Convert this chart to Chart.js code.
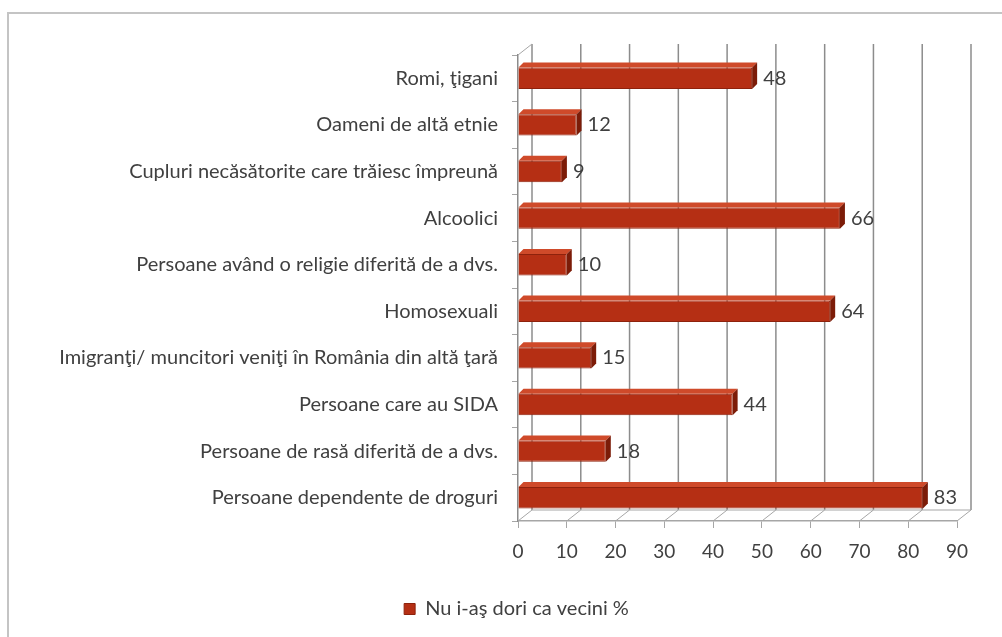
<!DOCTYPE html>
<html>
<head>
<meta charset="utf-8">
<script src="https://cdn.jsdelivr.net/npm/chart.js@4/dist/chart.umd.min.js"></script>
<style>
  html, body { margin: 0; padding: 0; background: #fff; }
  #wrap { position: relative; width: 1002px; height: 637px; overflow: hidden; }
  #frame { position: absolute; left: 7px; top: 12px; width: 1100px; height: 700px;
           border-top: 2px solid #c4c4c4; border-left: 2px solid #c4c4c4; }
  #box { position: absolute; left: 0; top: 0; width: 1002px; height: 637px; }
</style>
</head>
<body>
<div id="wrap">
  <div id="frame"></div>
  <div id="box"><canvas id="myChart"></canvas></div>
</div>
<script>
const categories = [
  'Romi, ţigani',
  'Oameni de altă etnie',
  'Cupluri necăsătorite care trăiesc împreună',
  'Alcoolici',
  'Persoane având o religie diferită de a dvs.',
  'Homosexuali',
  'Imigranţi/ muncitori veniţi în România din altă ţară',
  'Persoane care au SIDA',
  'Persoane de rasă diferită de a dvs.',
  'Persoane dependente de droguri'
];
const values = [48, 12, 9, 66, 10, 64, 15, 44, 18, 83];
const seriesLabel = 'Nu i-aş dori ca vecini %';
const xTicks = [0, 10, 20, 30, 40, 50, 60, 70, 80, 90];

const FONT = 'Lato';
const TEXT = '#404040';
const BAR = '#b52f14';
// depth of the back wall and of the bars
const DX = 14, DY = 11, BD = 5;

let myChart;

// back wall, floor and side wall of the pseudo-3D frame, plus bar depth and values
const frame3d = {
  id: 'frame3d',
  afterLayout(chart) {
    // legend sits centred under the plot, not under the whole canvas
    chart.legend.left += 38;
    chart.legend.right += 38;
  },
  beforeDatasetsDraw(chart) {
    const { ctx, chartArea: a, scales: { x } } = chart;
    ctx.save();
    ctx.lineWidth = 1.5;
    ctx.strokeStyle = '#8c8c8c';
    xTicks.forEach(v => {
      const px = x.getPixelForValue(v);
      ctx.beginPath();
      ctx.moveTo(px + DX, a.bottom - DY);
      ctx.lineTo(px + DX, a.top - DY);
      ctx.stroke();
    });
    ctx.strokeStyle = '#a6a6a6';
    ctx.lineWidth = 1;
    xTicks.forEach(v => {
      const px = x.getPixelForValue(v);
      ctx.beginPath();
      ctx.moveTo(px, a.bottom);
      ctx.lineTo(px + DX, a.bottom - DY);
      ctx.stroke();
    });
    ctx.beginPath();
    ctx.moveTo(a.left + DX, a.bottom - DY);
    ctx.lineTo(x.getPixelForValue(90) + DX, a.bottom - DY);
    ctx.moveTo(a.left, a.top);
    ctx.lineTo(a.left + DX, a.top - DY);
    ctx.stroke();
    ctx.restore();
  },
  afterDatasetsDraw(chart) {
    const { ctx } = chart;
    const meta = chart.getDatasetMeta(0);
    ctx.save();
    meta.data.forEach((bar, i) => {
      const { x, y, base, height } = bar.getProps(['x', 'y', 'base', 'height'], true);
      const t = y - height / 2, b = y + height / 2;
      // top face
      ctx.fillStyle = '#cf4a2a';
      ctx.beginPath();
      ctx.moveTo(base, t); ctx.lineTo(x, t); ctx.lineTo(x + BD, t - BD); ctx.lineTo(base + BD, t - BD);
      ctx.closePath(); ctx.fill();
      // end face
      ctx.fillStyle = '#7c1c08';
      ctx.beginPath();
      ctx.moveTo(x, t); ctx.lineTo(x + BD, t - BD); ctx.lineTo(x + BD, b - BD); ctx.lineTo(x, b);
      ctx.closePath(); ctx.fill();
      // value label
      ctx.fillStyle = TEXT;
      ctx.font = `20px ${FONT}`;
      ctx.textBaseline = 'middle';
      ctx.textAlign = 'left';
      ctx.fillText(String(values[i]), x + BD + 6, y);
    });
    ctx.restore();
  }
};

const setup = () => {
  const context = document.getElementById('myChart').getContext('2d');

  myChart = new Chart(context, {
    type: 'bar',
    data: {
      labels: categories,
      datasets: [{
        label: seriesLabel,
        data: values,
        backgroundColor: BAR,
        borderColor: '#8e220c',
        borderWidth: 1,
        barPercentage: 0.46,
        categoryPercentage: 1
      }]
    },
    options: {
      indexAxis: 'y',
      responsive: true,
      maintainAspectRatio: false,
      animation: false,
      layout: { padding: { left: 0, right: 45, top: 55, bottom: 8 } },
      scales: {
        x: {
          min: 0,
          max: 90,
          afterBuildTicks: s => { s.ticks = xTicks.map(v => ({ value: v })); },
          afterFit: s => { s.height = 70; },
          grid: { drawOnChartArea: false, drawTicks: true, tickLength: 7, color: '#a6a6a6' },
          border: { color: '#a6a6a6', width: 1.5 },
          ticks: { color: TEXT, font: { family: FONT, size: 19 }, padding: 12 }
        },
        y: {
          afterFit: s => { s.width = 518; },
          grid: { drawOnChartArea: false, drawTicks: true, tickLength: 6, color: '#a6a6a6' },
          border: { color: '#8c8c8c', width: 1.5 },
          ticks: { color: TEXT, font: { family: FONT, size: 20 }, padding: 14, autoSkip: false }
        }
      },
      plugins: {
        legend: {
          position: 'bottom',
          labels: {
            color: TEXT,
            font: { family: FONT, size: 20 },
            boxWidth: 11,
            boxHeight: 11,
            padding: 8
          }
        },
        tooltip: { enabled: false }
      }
    },
    plugins: [frame3d]
  });
};

window.addEventListener('DOMContentLoaded', setup);
</script>
</body>
</html>
